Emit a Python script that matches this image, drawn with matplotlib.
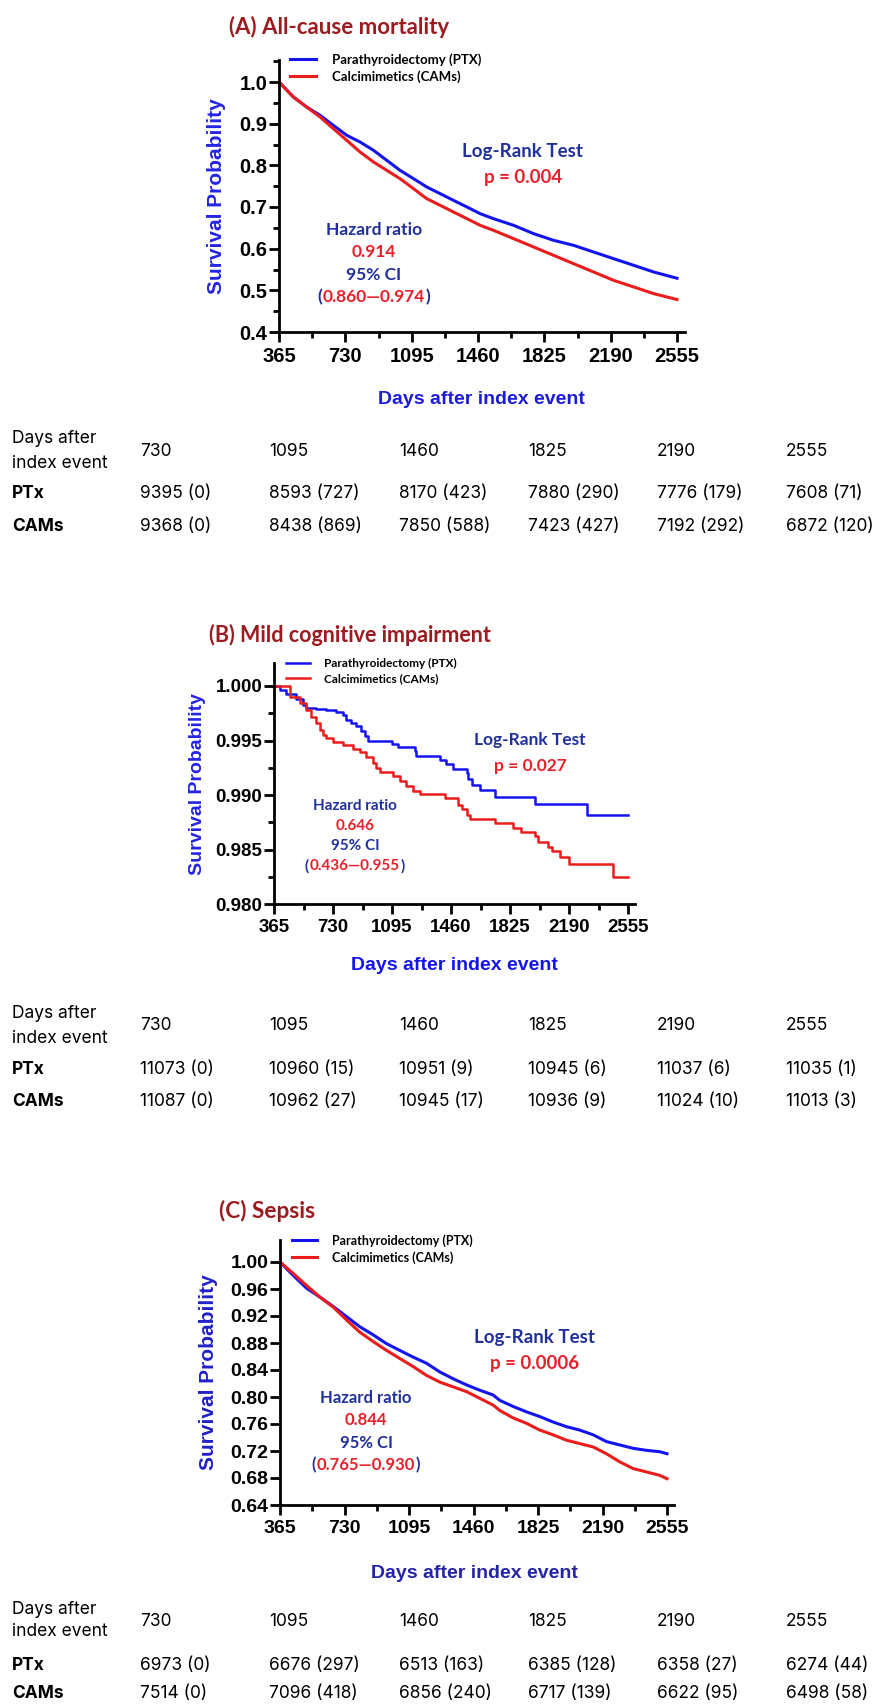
import matplotlib
matplotlib.use("Agg")
import matplotlib.pyplot as plt
from matplotlib.ticker import MultipleLocator, FormatStrFormatter, FixedLocator

# ---- data ----
# (A) all-cause mortality
a_days = [365, 444, 517, 591, 664, 738, 811, 885, 958, 1031, 1105, 1178, 1252, 1325,
          1399, 1472, 1545, 1656, 1766, 1876, 1986, 2096, 2206, 2317, 2427, 2555]
a_ptx = [1.0, 0.964, 0.940, 0.920, 0.896, 0.872, 0.856, 0.836, 0.812, 0.788, 0.768, 0.748,
         0.732, 0.716, 0.700, 0.684, 0.672, 0.656, 0.636, 0.620, 0.608, 0.592, 0.576,
         0.560, 0.544, 0.529]
a_cams = [1.0, 0.964, 0.940, 0.916, 0.888, 0.860, 0.832, 0.808, 0.788, 0.768, 0.744, 0.720,
          0.704, 0.688, 0.672, 0.656, 0.644, 0.624, 0.604, 0.584, 0.564, 0.544, 0.524,
          0.508, 0.492, 0.478]

# (B) mild cognitive impairment (step curves)
b_ptx_days = [365, 400, 441, 503, 545, 565, 627, 689, 751, 792, 813, 844, 875, 906, 926,
              947, 1092, 1133, 1236, 1246, 1391, 1432, 1473, 1556, 1566, 1587, 1638,
              1731, 1979, 2303, 2555]
b_ptx = [1.0, 0.9996, 0.9993, 0.9988, 0.9983, 0.9980, 0.9979, 0.9978, 0.9976, 0.9973,
         0.9969, 0.9966, 0.9963, 0.9959, 0.9954, 0.9950, 0.9947, 0.9944, 0.9940, 0.9936,
         0.9932, 0.9928, 0.9924, 0.9920, 0.9915, 0.9909, 0.9905, 0.9898, 0.9892, 0.9882,
         0.9882]
b_cams_days = [365, 462, 524, 565, 596, 627, 648, 668, 689, 730, 792, 854, 895, 937, 978,
               999, 1019, 1102, 1143, 1184, 1226, 1267, 1422, 1504, 1525, 1556, 1577,
               1731, 1845, 1896, 1979, 2000, 2062, 2082, 2134, 2192, 2464, 2555]
b_cams = [1.0, 0.9990, 0.9984, 0.9978, 0.9972, 0.9966, 0.9960, 0.9955, 0.9952, 0.9949,
          0.9946, 0.9942, 0.9939, 0.9935, 0.9929, 0.9925, 0.9921, 0.9917, 0.9913, 0.9908,
          0.9904, 0.9901, 0.9897, 0.9891, 0.9887, 0.9882, 0.9878, 0.9874, 0.9870, 0.9866,
          0.9862, 0.9857, 0.9852, 0.9849, 0.9843, 0.9837, 0.9825, 0.9825]

# (C) sepsis
c_days = [365, 440, 516, 591, 667, 742, 817, 893, 968, 1043, 1119, 1194, 1270, 1345, 1420,
          1496, 1571, 1609, 1684, 1760, 1835, 1910, 1986, 2061, 2137, 2212, 2287, 2363,
          2438, 2513, 2555]
c_ptx = [1.0, 0.980, 0.961, 0.948, 0.934, 0.919, 0.904, 0.892, 0.879, 0.869, 0.859, 0.850,
         0.837, 0.827, 0.818, 0.810, 0.803, 0.795, 0.786, 0.778, 0.771, 0.763, 0.756,
         0.751, 0.744, 0.734, 0.729, 0.724, 0.721, 0.719, 0.716]
c_cams = [1.0, 0.983, 0.965, 0.948, 0.933, 0.914, 0.896, 0.882, 0.869, 0.857, 0.845, 0.832,
          0.822, 0.815, 0.808, 0.798, 0.788, 0.780, 0.769, 0.761, 0.751, 0.744, 0.736,
          0.731, 0.726, 0.716, 0.704, 0.694, 0.689, 0.684, 0.679]

titles = ["(A) All-cause mortality", "(B) Mild cognitive impairment", "(C) Sepsis"]
p_values = ["p = 0.004", "p = 0.027", "p = 0.0006"]
hazard = ["0.914", "0.646", "0.844"]
ci = ["0.860\u20140.974", "0.436\u20140.955", "0.765\u20140.930"]
legend_labels = ["Parathyroidectomy (PTX)", "Calcimimetics (CAMs)"]

table_days = [730, 1095, 1460, 1825, 2190, 2555]
a_ptx_risk = [9395, 8593, 8170, 7880, 7776, 7608]
a_ptx_cens = [0, 727, 423, 290, 179, 71]
a_cams_risk = [9368, 8438, 7850, 7423, 7192, 6872]
a_cams_cens = [0, 869, 588, 427, 292, 120]
b_ptx_risk = [11073, 10960, 10951, 10945, 11037, 11035]
b_ptx_cens = [0, 15, 9, 6, 6, 1]
b_cams_risk = [11087, 10962, 10945, 10936, 11024, 11013]
b_cams_cens = [0, 27, 17, 9, 10, 3]
c_ptx_risk = [6973, 6676, 6513, 6385, 6358, 6274]
c_ptx_cens = [0, 297, 163, 128, 27, 44]
c_cams_risk = [7514, 7096, 6856, 6717, 6622, 6498]
c_cams_cens = [0, 418, 240, 139, 95, 58]

# ---- styling ----
W, H = 875, 1705
BLUE = "#1414f0"
RED = "#ec1c1c"
NAVY = "#21309a"
TXTRED = "#e8202a"
DARKRED = "#9b1b1f"
LABEL_FONT = ["Liberation Sans", "DejaVu Sans"]
CAL_FONT = ["Lato", "DejaVu Sans"]
TAB_FONT = ["Inter", "DejaVu Sans"]
TAB_SIZE = 12.5

fig = plt.figure(figsize=(W / 100, H / 100), dpi=100)


def fx(x):
    return x / W


def fy(y):
    return 1 - y / H


def panel(x0, x_last, x_end, y_bot, y_one, y_top, ymin):
    ax = fig.add_axes([fx(x0), fy(y_bot), (x_end - x0) / W, (y_bot - y_top) / H])
    ax.set_xlim(365, 365 + 2190 * (x_end - x0) / (x_last - x0))
    ax.set_ylim(ymin, ymin + (1 - ymin) * (y_bot - y_top) / (y_bot - y_one))
    for s in ["top", "right"]:
        ax.spines[s].set_visible(False)
    for s in ["left", "bottom"]:
        ax.spines[s].set_linewidth(2.0)
    ax.xaxis.set_major_locator(FixedLocator([365, 730, 1095, 1460, 1825, 2190, 2555]))
    ax.xaxis.set_minor_locator(FixedLocator([547.5, 912.5, 1277.5, 1642.5, 2007.5, 2372.5]))
    ax.tick_params(which="major", width=2.0, length=7.5, color="black")
    ax.tick_params(which="minor", width=2.0, length=4.5, color="black")
    ax.tick_params(axis="y", pad=1)
    ax.tick_params(axis="x", pad=3)
    ax.patch.set_alpha(0)
    return ax


def style_ticks(ax, xsize, ysize):
    for lab in ax.get_xticklabels():
        lab.set_fontfamily(LABEL_FONT)
        lab.set_fontweight("bold")
        lab.set_fontsize(xsize)
    for lab in ax.get_yticklabels():
        lab.set_fontfamily(LABEL_FONT)
        lab.set_fontweight("bold")
        lab.set_fontsize(ysize)


def annotations(i, lx, ly, hx, hy, big, small, gap):
    renderer = fig.canvas.get_renderer()
    fig.text(fx(lx), fy(ly), "Log-Rank Test", color=NAVY, fontsize=big, fontweight="bold",
             family=CAL_FONT, ha="center", va="center")
    fig.text(fx(lx), fy(ly + 26), p_values[i], color=TXTRED, fontsize=big, fontweight="bold",
             family=CAL_FONT, ha="center", va="center")
    fig.text(fx(hx), fy(hy), "Hazard ratio", color=NAVY, fontsize=small, fontweight="bold",
             family=CAL_FONT, ha="center", va="center")
    fig.text(fx(hx), fy(hy + gap), hazard[i], color=TXTRED, fontsize=small, fontweight="bold",
             family=CAL_FONT, ha="center", va="center")
    fig.text(fx(hx), fy(hy + 2 * gap), "95% CI", color=NAVY, fontsize=small, fontweight="bold",
             family=CAL_FONT, ha="center", va="center")
    mid = fig.text(fx(hx), fy(hy + 3 * gap), ci[i], color=TXTRED, fontsize=small,
                   fontweight="bold", family=CAL_FONT, ha="center", va="center")
    bb = mid.get_window_extent(renderer)
    fig.text(bb.x0 / W - 0.001, fy(hy + 3 * gap), "(", color=NAVY, fontsize=small,
             fontweight="bold", family=CAL_FONT, ha="right", va="center")
    fig.text(bb.x1 / W + 0.001, fy(hy + 3 * gap), ")", color=NAVY, fontsize=small,
             fontweight="bold", family=CAL_FONT, ha="left", va="center")


def legend(ax, lx, ly, size):
    ax.legend(loc="upper left", bbox_to_anchor=(fx(lx), fy(ly)),
              bbox_transform=fig.transFigure, frameon=False,
              prop={"family": CAL_FONT, "weight": "bold", "size": size},
              handlelength=2.0, handletextpad=1.2, labelspacing=0.35,
              borderpad=0, borderaxespad=0)


def table(rows_y, ptx_risk, ptx_cens, cams_risk, cams_cens, head_gap):
    col_x = [140, 269, 399, 528, 657, 786]
    hy, py, cy = rows_y
    fig.text(fx(12), fy(hy - head_gap), "Days after", fontsize=TAB_SIZE, family=TAB_FONT,
             ha="left", va="center")
    fig.text(fx(12), fy(hy + head_gap), "index event", fontsize=TAB_SIZE, family=TAB_FONT,
             ha="left", va="center")
    fig.text(fx(12), fy(py), "PTx", fontsize=TAB_SIZE, family=TAB_FONT, fontweight="bold",
             ha="left", va="center")
    fig.text(fx(12), fy(cy), "CAMs", fontsize=TAB_SIZE, family=TAB_FONT, fontweight="bold",
             ha="left", va="center")
    for j, x in enumerate(col_x):
        fig.text(fx(x), fy(hy), str(table_days[j]), fontsize=TAB_SIZE, family=TAB_FONT,
                 ha="left", va="center")
        fig.text(fx(x), fy(py), f"{ptx_risk[j]} ({ptx_cens[j]})", fontsize=TAB_SIZE,
                 family=TAB_FONT, ha="left", va="center")
        fig.text(fx(x), fy(cy), f"{cams_risk[j]} ({cams_cens[j]})", fontsize=TAB_SIZE,
                 family=TAB_FONT, ha="left", va="center")


# ---- panel A ----
ax = panel(279, 677, 685, 332, 82, 60, 0.4)
ax.plot(a_days, a_ptx, color=BLUE, lw=2.2, label=legend_labels[0])
ax.plot(a_days, a_cams, color=RED, lw=2.2, label=legend_labels[1])
ax.yaxis.set_major_locator(MultipleLocator(0.1))
ax.yaxis.set_minor_locator(MultipleLocator(0.05))
ax.yaxis.set_major_formatter(FormatStrFormatter("%.1f"))
style_ticks(ax, 14.5, 14.5)
legend(ax, 290, 53, 9.5)
fig.text(fx(229), fy(27), titles[0], color=DARKRED, fontsize=16, fontweight="bold",
         family=CAL_FONT, ha="left", va="center")
fig.text(fx(217), fy(196), "Survival Probability", color="#2323e6", fontsize=15,
         fontweight="bold", family=LABEL_FONT, rotation=90, ha="center", va="center")
fig.text(fx(481), fy(400), "Days after index event", color="#1c1cd8", fontsize=14,
         fontweight="bold", family=LABEL_FONT, ha="center", va="center")
annotations(0, 523, 152, 374, 230, 13.5, 12.5, 22.3)
table((451, 494, 526), a_ptx_risk, a_ptx_cens, a_cams_risk, a_cams_cens, 12.5)

# ---- panel B ----
ax = panel(274, 628, 635, 904, 686, 663, 0.98)
ax.plot(b_ptx_days, b_ptx, color=BLUE, lw=1.8, drawstyle="steps-post", label=legend_labels[0])
ax.plot(b_cams_days, b_cams, color=RED, lw=1.8, drawstyle="steps-post", label=legend_labels[1])
ax.yaxis.set_major_locator(MultipleLocator(0.005))
ax.yaxis.set_minor_locator(MultipleLocator(0.0025))
ax.yaxis.set_major_formatter(FormatStrFormatter("%.3f"))
style_ticks(ax, 13.5, 13.5)
legend(ax, 286, 658, 8.5)
fig.text(fx(209), fy(635), titles[1], color=DARKRED, fontsize=15.5, fontweight="bold",
         family=CAL_FONT, ha="left", va="center")
fig.text(fx(198), fy(784), "Survival Probability", color="#2323e6", fontsize=14,
         fontweight="bold", family=LABEL_FONT, rotation=90, ha="center", va="center")
fig.text(fx(454), fy(966), "Days after index event", color="#1414ee", fontsize=14,
         fontweight="bold", family=LABEL_FONT, ha="center", va="center")
annotations(1, 530, 740, 355, 806, 12.5, 11, 20)
table((1026, 1070, 1102), b_ptx_risk, b_ptx_cens, b_cams_risk, b_cams_cens, 12.5)

# ---- panel C ----
ax = panel(280, 667, 674, 1505, 1262, 1240, 0.64)
ax.plot(c_days, c_ptx, color=BLUE, lw=2.2, label=legend_labels[0])
ax.plot(c_days, c_cams, color=RED, lw=2.2, label=legend_labels[1])
ax.yaxis.set_major_formatter(FormatStrFormatter("%.2f"))
ax.set_yticks([0.64 + 0.04 * k for k in range(10)])
style_ticks(ax, 14, 14)
legend(ax, 292, 1234, 9)
fig.text(fx(219), fy(1211), titles[2], color=DARKRED, fontsize=16.3, fontweight="bold",
         family=CAL_FONT, ha="left", va="center")
fig.text(fx(208), fy(1372), "Survival Probability", color="#2020c8", fontsize=15,
         fontweight="bold", family=LABEL_FONT, rotation=90, ha="center", va="center")
fig.text(fx(474), fy(1573), "Days after index event", color="#2424a8", fontsize=14,
         fontweight="bold", family=LABEL_FONT, ha="center", va="center")
annotations(2, 535, 1337, 366, 1398, 13.5, 12, 22.3)
table((1621, 1666, 1694), c_ptx_risk, c_ptx_cens, c_cams_risk, c_cams_cens, 11)

fig.savefig("out.png", dpi=100)
